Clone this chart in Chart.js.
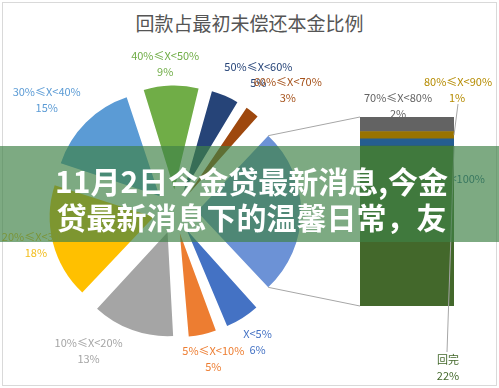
<!DOCTYPE html>
<html><head><meta charset="utf-8">
<script src="https://cdn.jsdelivr.net/npm/chart.js@4.4.1/dist/chart.umd.min.js"></script>
<style>
html,body{margin:0;padding:0;background:#fff;width:499px;height:388px;overflow:hidden;}
#wrap{position:relative;width:499px;height:388px;}
#frame{position:absolute;left:2px;top:2px;width:493px;height:382px;border:1px solid #d9d9d9;}
canvas{position:absolute;left:0;top:0;}
#title{position:absolute;left:0;width:499px;top:9px;text-align:center;font:19px/28px "Noto Sans CJK SC",sans-serif;color:#555;}
#banner{position:absolute;left:0;top:146px;width:499px;height:96px;background:rgba(64,130,71,0.68);}
#banner div{padding-top:16px;text-align:center;font:bold 30px/36px "Noto Sans CJK SC",sans-serif;color:#fff;padding-left:4px;}
</style></head>
<body><div id="wrap">
<div id="frame"></div>
<div id="title">回款占最初未偿还本金比例</div>
<canvas id="pie" width="499" height="388"></canvas>
<canvas id="bar" width="499" height="388"></canvas>
<div id="banner"><div>11月2日今金贷最新消息,今金<br>贷最新消息下的温馨日常，友</div></div>
</div>
<script>
// ---- data ----
const pieCategories = ['其他', 'X<5%', '5%≤X<10%', '10%≤X<20%', '20%≤X<30%', '30%≤X<40%', '40%≤X<50%', '50%≤X<60%', '60%≤X<70%'];
const pieValues = [26, 6, 5, 13, 18, 15, 9, 5, 3];
const barCategories = ['回完', '90%≤X<100%', '80%≤X<90%', '70%≤X<80%'];
const barValues = [22, 1, 1, 2];

// ---- styles ----
const pieColors = ['#6c92d6', '#4472c4', '#ed7d31', '#a5a5a5', '#ffc000', '#5b9bd5', '#70ad47', '#264478', '#9e480e'];
const pieLabelColors = [null, '#4472c4', '#ed7d31', '#a5a5a5', '#f2bd1d', '#5b9bd5', '#70ad47', '#264478', '#a5521b'];
const barColors = ['#43682b', '#255e91', '#997300', '#636363'];
const barLabelColors = ['#43682b', '#255e91', '#b58b00', '#636363'];
const labelDist = [0, 154, 152, 164, 143, 170, 148, 160, 166];
const labelNudge = [0, 0, -2, 12, 1, -4, -2, 8, 5];
const PIE_R = 104, PIE_OFFSET = 88;
const FONT = '11px "Noto Sans CJK SC", sans-serif';

function pct(v) { return v + '%'; }

const arcFix = {
  id: 'arcFix',
  afterDatasetsUpdate(chart) {
    chart.getDatasetMeta(0).data.forEach(el => {
      const off = PIE_OFFSET / 4;
      const fix = 1 - Math.sin(Math.min(Math.PI, el.circumference));
      el.outerRadius = PIE_R - off * fix;
    });
  }
};
const pieLabels = {
  id: 'pieLabels',
  afterDatasetsDraw(chart) {
    const ctx = chart.ctx;
    const meta = chart.getDatasetMeta(0);
    ctx.save();
    ctx.font = FONT; ctx.textAlign = 'center'; ctx.textBaseline = 'middle';
    meta.data.forEach((el, i) => {
      if (i === 0) return;
      const a = (el.startAngle + el.endAngle) / 2 + labelNudge[i] * Math.PI / 180;
      const x = el.x + Math.cos(a) * labelDist[i];
      const y = el.y + Math.sin(a) * labelDist[i];
      ctx.fillStyle = pieLabelColors[i];
      ctx.fillText(pieCategories[i], x, y - 8);
      ctx.fillText(pct(pieValues[i]), x, y + 8);
    });
    ctx.restore();
  }
};

let pieChart;
function barEls(chart) {
  return barCategories.map((c, i) => chart.getDatasetMeta(i).data[0]);
}
const barUnder = {
  id: 'barUnder',
  beforeDatasetsDraw(chart) {
    const ctx = chart.ctx;
    const [green, blue] = barEls(chart);
    const right = green.x + green.width / 2;
    ctx.save();
    ctx.font = FONT; ctx.textBaseline = 'middle';
    ctx.fillStyle = barLabelColors[1];
    ctx.textAlign = 'right';
    ctx.fillText(barCategories[1], right + 31, blue.y + 40);
    ctx.textAlign = 'center';
    ctx.fillText(pct(barValues[1]), right - 12, blue.y + 56);
    ctx.restore();
  }
};
const barDeco = {
  id: 'barDeco',
  afterDatasetsDraw(chart) {
    const ctx = chart.ctx;
    const [green, blue, gold, gray] = barEls(chart);
    const left = green.x - green.width / 2, right = green.x + green.width / 2;
    ctx.save();
    // connector lines from "other" slice to the bar
    const o = pieChart.getDatasetMeta(0).data[0];
    const half = (o.startAngle + o.endAngle) / 2, t = PIE_OFFSET / 4;
    const cx = o.x + Math.cos(half) * t, cy = o.y + Math.sin(half) * t;
    const r = PIE_R;
    ctx.strokeStyle = '#a6a6a6'; ctx.lineWidth = 1;
    ctx.beginPath();
    ctx.moveTo(cx + Math.cos(o.startAngle) * r, cy + Math.sin(o.startAngle) * r);
    ctx.lineTo(left, gray.y);
    ctx.moveTo(cx + Math.cos(o.endAngle) * r, cy + Math.sin(o.endAngle) * r);
    ctx.lineTo(left, green.base);
    // leader lines
    ctx.moveTo(right + 4, gray.y - 13);
    ctx.lineTo(right, (gold.y + gold.base) / 2);
    ctx.moveTo(right - 7, green.base + 46);
    ctx.lineTo(right, green.y);
    ctx.stroke();
    // labels
    ctx.font = FONT; ctx.textAlign = 'center'; ctx.textBaseline = 'middle';
    ctx.fillStyle = barLabelColors[3];
    ctx.fillText(barCategories[3], gray.x - 9, gray.y - 19);
    ctx.fillText(pct(barValues[3]), gray.x - 9, gray.y - 3);
    ctx.fillStyle = barLabelColors[2];
    ctx.fillText(barCategories[2], right + 4, gray.y - 35);
    ctx.fillText(pct(barValues[2]), right + 3, gray.y - 19);
    ctx.fillStyle = barLabelColors[0];
    ctx.fillText(barCategories[0], right - 6, green.base + 54);
    ctx.fillText(pct(barValues[0]), right - 6, green.base + 70);
    ctx.restore();
  }
};

function build() {
  pieChart = new Chart(document.getElementById('pie'), {
    type: 'pie',
    data: {
      labels: pieCategories,
      datasets: [{ data: pieValues, backgroundColor: pieColors, borderWidth: 0, offset: PIE_OFFSET, hoverOffset: 0 }]
    },
    options: {
      responsive: false, animation: false, events: [],
      rotation: 43.2, radius: PIE_R,
      layout: { padding: { left: 0, right: 149, top: 35, bottom: 0 } },
      plugins: { legend: { display: false }, tooltip: { enabled: false } }
    },
    plugins: [arcFix, pieLabels]
  });
  const total = barValues.reduce((a, b) => a + b, 0);
  new Chart(document.getElementById('bar'), {
    type: 'bar',
    data: {
      labels: [''],
      datasets: barCategories.map((c, i) => ({ label: c, data: [barValues[i]], backgroundColor: barColors[i], borderWidth: 0, barPercentage: 1, categoryPercentage: 1 }))
    },
    options: {
      responsive: false, animation: false, events: [],
      layout: { padding: { left: 360, right: 45, top: 117, bottom: 82 } },
      scales: {
        x: { stacked: true, display: false },
        y: { stacked: true, display: false, min: 0, max: total }
      },
      plugins: { legend: { display: false }, tooltip: { enabled: false } }
    },
    plugins: [barUnder, barDeco]
  });
}
if (document.fonts && document.fonts.load) {
  document.fonts.load(FONT, '回完≤%').then(build, build);
} else build();
</script>
</body></html>
